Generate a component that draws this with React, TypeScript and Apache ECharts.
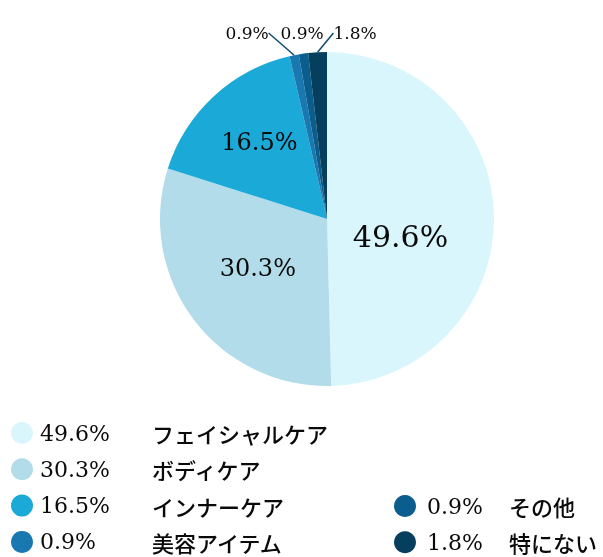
import React, { useEffect, useRef } from "react";
import * as echarts from "echarts";

const names = ["フェイシャルケア", "ボディケア", "インナーケア", "美容アイテム", "その他", "特にない"];
const values = [49.6, 30.3, 16.5, 0.9, 0.9, 1.8];
const colors = ["#d9f6fc", "#b2dcea", "#1ba9d8", "#1a78b0", "#0a5d8c", "#063e5e"];
const leftLegendNames = names.slice(0, 4);
const rightLegendNames = names.slice(4);

const SERIF = "'DejaVu Serif', 'Liberation Serif', serif";
const JP = "'Noto Sans CJK JP', sans-serif";

export default function App() {
  const ref = useRef<HTMLDivElement>(null);
  useEffect(() => {
    if (!ref.current) return;
    const chart = echarts.init(ref.current, undefined, { renderer: "svg" });
    const pct = (n: string) => values[names.indexOf(n)].toFixed(1) + "%";
    const insideSize = [30, 24, 24];
    const insideShift = [[-13, 19], [0, -3], [-9, -13]];
    const topLabelX = [247, 302, 355];
    const data = names.map((n, i) => {
      const big = i < 3;
      return {
        name: n,
        value: values[i],
        itemStyle: { color: colors[i] },
        label: big
          ? { show: true, position: "inside", fontSize: insideSize[i], fontFamily: SERIF, color: "#0a0a0a" }
          : { show: true, position: "outside", fontSize: 17, fontFamily: SERIF, color: "#0a0a0a" },
        labelLine: big ? { show: false } : { show: i !== 4, length: 12, length2: 0, lineStyle: { color: "#0a4a6e", width: 1.5 } },
      };
    });
    const legendBase = {
      orient: "vertical",
      itemWidth: 22,
      itemHeight: 22,
      icon: "circle",
      selectedMode: false,
      height: 200,
      itemGap: 14.3,
    };
    const rich = (w: number, pad: number) => ({
      p: { width: w, fontSize: 22, lineHeight: 22, fontFamily: SERIF, color: "#0a0a0a", padding: [0, 0, 0, pad] },
      n: { fontSize: 22, lineHeight: 22, fontFamily: JP, fontWeight: 500, color: "#0a0a0a" },
    });
    chart.setOption({
      animation: false,
      legend: [
        {
          ...legendBase,
          data: leftLegendNames,
          left: 6,
          top: 417,
          formatter: (n: string) => `{p|${pct(n)}}{n|${n}}`,
          textStyle: { rich: rich(112, 2) },
        },
        {
          ...legendBase,
          data: rightLegendNames,
          left: 389,
          top: 490,
          formatter: (n: string) => `{p|${pct(n)}}{n|${n}}`,
          textStyle: { rich: rich(82, 6) },
        },
      ],
      series: [
        {
          type: "pie",
          center: [327, 219],
          radius: 167,
          startAngle: 90,
          clockwise: true,
          data,
          label: { formatter: (p: any) => p.value.toFixed(1) + "%" },
          labelLayout: (p: any) => {
            if (p.dataIndex < 3) {
              const s = insideShift[p.dataIndex];
              return { dx: s[0], dy: s[1] };
            }
            return { x: topLabelX[p.dataIndex - 3], y: 33, align: "center", verticalAlign: "middle" };
          },
        },
      ],
    });
    return () => chart.dispose();
  }, []);
  return <div ref={ref} style={{ position: "fixed", left: 0, top: 0, width: 603, height: 557 }} />;
}
